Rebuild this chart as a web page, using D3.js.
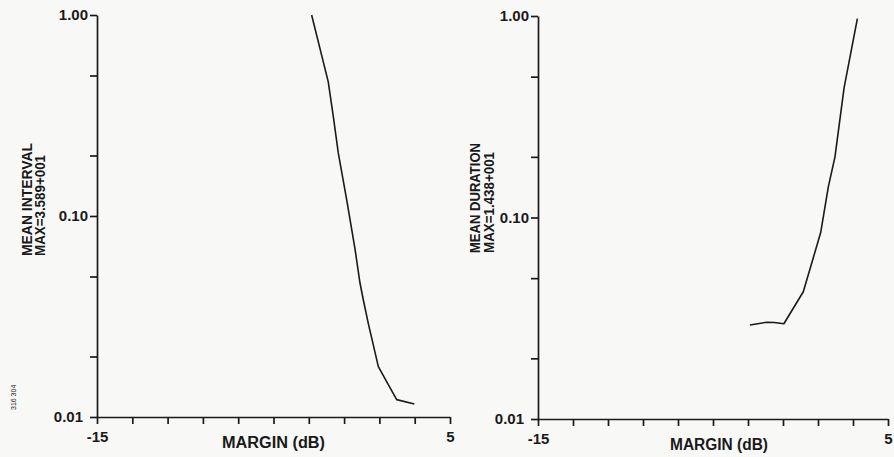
<!DOCTYPE html>
<html>
<head>
<meta charset="utf-8">
<script src="https://cdn.jsdelivr.net/npm/d3@7/dist/d3.min.js"></script>
<style>
  html, body { margin: 0; padding: 0; background: #f8f8f6; }
  svg { display: block; }
  text { font-family: "Liberation Sans", Arial, Helvetica, sans-serif; font-weight: bold; fill: #1a1a1a; }
</style>
</head>
<body>
<svg id="chart" width="894" height="457"></svg>
<script>
// ---- data ----
const marginTicks = [-15, -13, -11, -9, -7, -5, -3, -1, 1, 3, 5];
const marginLabels = [-15, 5];
const yTickValues = [1, 0.5, 0.2, 0.1, 0.05, 0.02, 0.01];
const yLabelValues = [1, 0.1, 0.01];

// Left panel: mean interval (normalized) vs margin (dB)
const intervalMargin = [-2.84, -1.90, -1.61, -1.33, -0.85, -0.39, -0.10, 0.09, 0.37, 0.94, 1.41, 1.98, 2.98];
const intervalValue  = [1.00, 0.466, 0.312, 0.206, 0.120, 0.0693, 0.0464, 0.0382, 0.0292, 0.0178, 0.0150, 0.0122, 0.0116];

// Right panel: mean duration (normalized) vs margin (dB)
const durationMargin = [-2.89, -1.93, -1.50, -0.95, 0.16, 1.15, 1.59, 1.97, 2.49, 3.25];
const durationValue  = [0.0293, 0.0302, 0.0301, 0.0297, 0.0428, 0.084, 0.142, 0.20, 0.44, 0.97];

const xTitle = "MARGIN (dB)";
const leftTitles = ["MEAN INTERVAL", "MAX=3.589+001"];
const rightTitles = ["MEAN DURATION", "MAX=1.438+001"];
const sideNote = "316 304";

// ---- drawing ----
const svg = d3.select("#chart");
const ink = "#1a1a1a";

function panel(cfg) {
  const x = d3.scaleLinear().domain([-15, 5]).range(cfg.xr);
  const y = d3.scaleLog().domain([0.01, 1]).range(cfg.yr);
  const g = svg.append("g");

  const yAxis = d3.axisLeft(y)
    .tickValues(yTickValues)
    .tickSize(7).tickSizeOuter(0).tickPadding(2)
    .tickFormat(d => yLabelValues.some(v => Math.abs(v - d) < 1e-9) ? d3.format(".2f")(d) : "");
  const ya = g.append("g").attr("transform", `translate(${cfg.xr[0]},0)`).call(yAxis);
  ya.selectAll("text").style("font-size", "15px").attr("fill", ink)
    .filter(d => Math.abs(d - 0.01) < 1e-9).attr("x", -14);

  const xAxis = d3.axisBottom(x)
    .tickValues(marginTicks)
    .tickSize(7).tickSizeOuter(0).tickPadding(7)
    .tickFormat(d => marginLabels.includes(d) ? String(d) : "");
  const xa = g.append("g").attr("transform", `translate(0,${cfg.yr[0]})`).call(xAxis);
  xa.selectAll("text").style("font-size", "15px").attr("fill", ink);

  g.selectAll(".domain, .tick line").attr("stroke", ink).attr("stroke-width", 1.7);

  // axis title
  g.append("text")
    .attr("x", (cfg.xr[0] + cfg.xr[1]) / 2 + cfg.titleDx)
    .attr("y", cfg.yr[0] + 31)
    .attr("text-anchor", "middle")
    .style("font-size", "16px")
    .attr("textLength", cfg.titleLen).attr("lengthAdjust", "spacingAndGlyphs")
    .text(xTitle);

  // rotated y titles
  cfg.titles.forEach((t, i) => {
    g.append("text")
      .attr("transform", `translate(${cfg.ytx[i]},${cfg.yty}) rotate(-90)`)
      .attr("text-anchor", "start")
      .style("font-size", "15px")
      .attr("textLength", cfg.ytLen[i]).attr("lengthAdjust", "spacingAndGlyphs")
      .text(t);
  });

  const line = d3.line().x(d => x(d[0])).y(d => y(d[1]));
  g.append("path")
    .datum(cfg.mx.map((m, i) => [m, cfg.vy[i]]))
    .attr("d", line)
    .attr("fill", "none")
    .attr("stroke", ink)
    .attr("stroke-width", 1.6)
    .attr("stroke-linejoin", "round");
}

panel({
  xr: [97, 450], yr: [417, 15],
  titleDx: 0, titleLen: 103,
  titles: leftTitles, ytx: [32, 45], yty: 256, ytLen: [113, 101],
  mx: intervalMargin, vy: intervalValue
});

panel({
  xr: [538, 888], yr: [419, 16],
  titleDx: 6, titleLen: 98,
  titles: rightTitles, ytx: [480, 494], yty: 253, ytLen: [110, 101],
  mx: durationMargin, vy: durationValue
});

svg.append("text")
  .attr("transform", "translate(16,410) rotate(-90)")
  .attr("text-anchor", "start")
  .style("font-size", "7px")
  .style("font-weight", "normal")
  .attr("fill", "#444")
  .text(sideNote);
</script>
</body>
</html>
